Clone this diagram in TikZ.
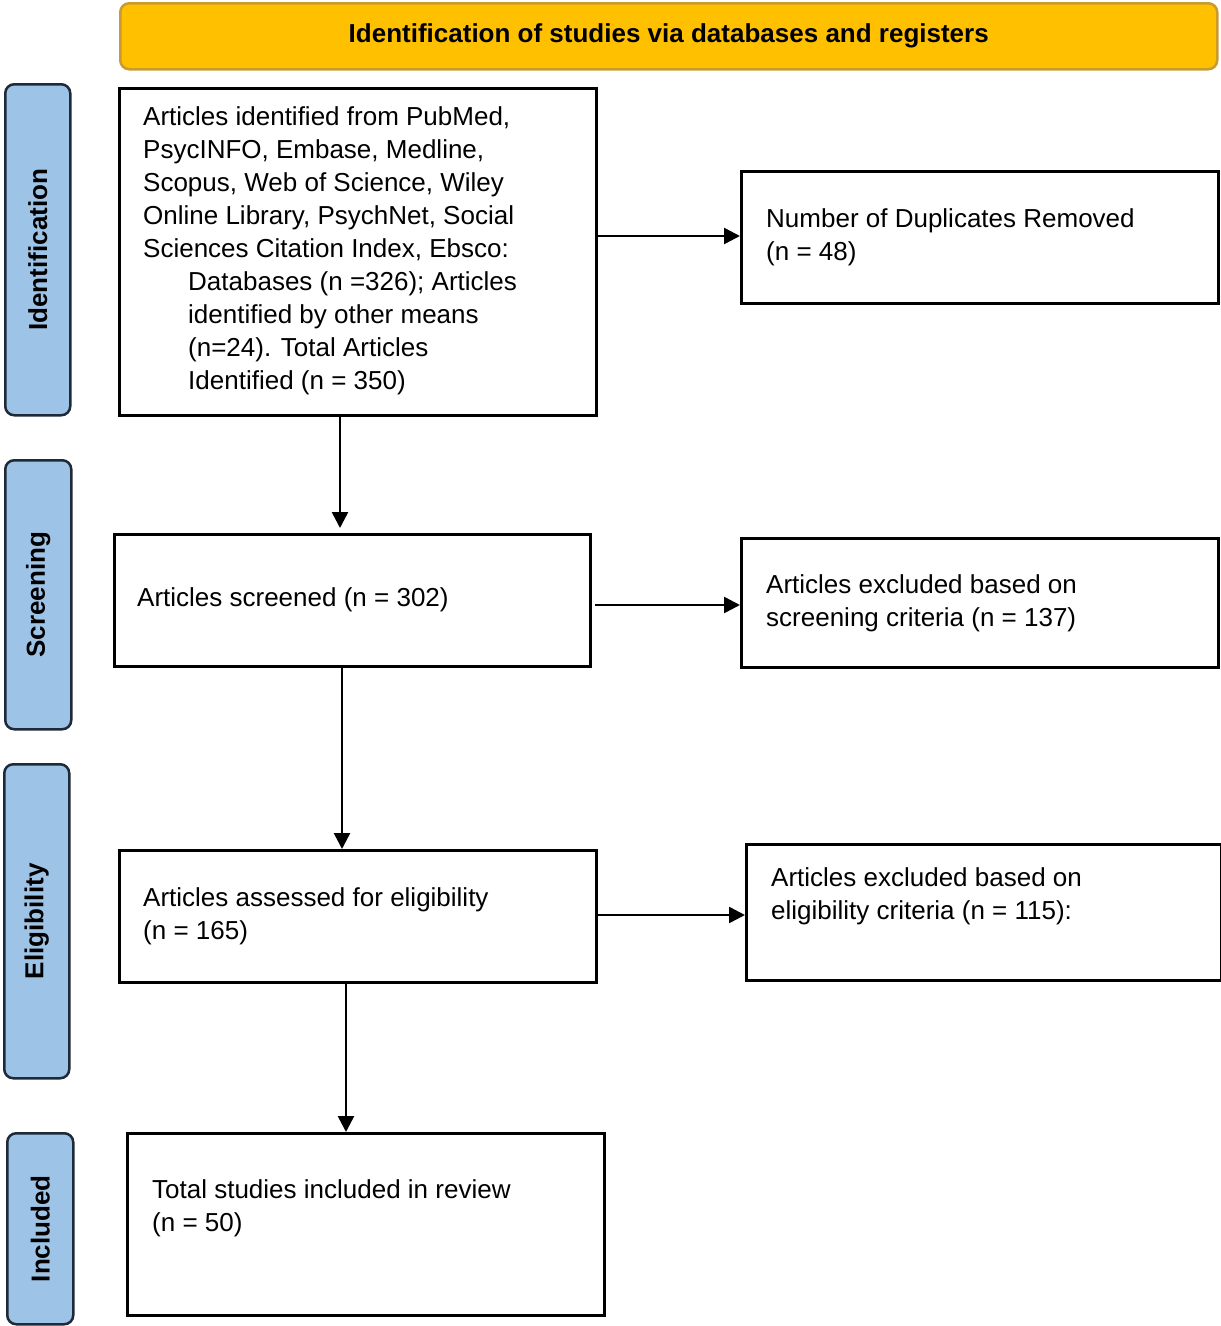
\documentclass[tikz,border=0pt]{standalone}
\usepackage{fontspec}
\setmainfont{Liberation Sans}
\usetikzlibrary{arrows.meta}
\definecolor{hdr}{HTML}{FFC000}
\definecolor{hdrb}{HTML}{C99A2E}
\definecolor{side}{HTML}{9DC3E6}
\definecolor{sideb}{HTML}{1F2A38}
\begin{document}
\begin{tikzpicture}[x=1pt,y=-1pt,
  box/.style={draw,line width=2.5pt,anchor=north west,inner sep=0pt},
  txt/.style={anchor=west,align=left,inner sep=0pt,font=\fontsize{26}{33}\selectfont},
  side/.style={draw=sideb,fill=side,line width=2.5pt,rounded corners=9pt,anchor=north west,inner sep=0pt},
  slab/.style={rotate=90,font=\fontsize{26}{30}\selectfont\bfseries},
  arr/.style={line width=2.5pt,-{Triangle[length=16pt,width=16pt]}}]
\useasboundingbox (0,0) rectangle (1221,1326);
\node[draw=hdrb,fill=hdr,line width=2.5pt,rounded corners=9pt,anchor=north west,minimum width=1097pt,minimum height=66pt,font=\fontsize{26}{30}\selectfont\bfseries] (hd) at (119,2) {Identification of studies via databases and registers};
\node[side,minimum width=65pt,minimum height=331pt] (s1) at (4,83) {};
\node[slab] at (s1.center) {Identification};
\node[side,minimum width=66pt,minimum height=269pt] (s2) at (4,459) {};
\node[slab] at (s2.center) {Screening};
\node[side,minimum width=65pt,minimum height=314pt] (s3) at (3,763) {};
\node[slab] at (s3.center) {Eligibility};
\node[side,minimum width=66pt,minimum height=191pt] (s4) at (6,1132) {};
\node[slab] at (s4.center) {Included};
% boxes
\node[box,minimum width=477pt,minimum height=327pt] (A) at (118,87) {};
\node[txt] (At) at (143,251) {Articles identified from PubMed,\\PsycINFO, Embase, Medline,\\Scopus, Web of Science, Wiley\\Online Library, PsychNet, Social\\Sciences Citation Index, Ebsco:\\\hspace*{45pt}Databases (n =326); Articles\\\hspace*{45pt}identified by other means\\\hspace*{45pt}(n=24). Total Articles\\\hspace*{45pt}Identified (n = 350)};
\node[box,minimum width=477pt,minimum height=132pt] (B) at (740,170) {};
\node[txt] (Bt) at (766,237) {Number of Duplicates Removed\\(n = 48)};
\node[box,minimum width=476pt,minimum height=132pt] (C) at (113,533) {};
\node[txt] (Ct) at (137,600) {Articles screened (n = 302)};
\node[box,minimum width=477pt,minimum height=129pt] (D) at (740,537) {};
\node[txt] (Dt) at (766,603) {Articles excluded based on\\screening criteria (n = 137)};
\node[box,minimum width=477pt,minimum height=132pt] (E) at (118,849) {};
\node[txt] (Et) at (143,916) {Articles assessed for eligibility\\(n = 165)};
\node[box,minimum width=475pt,minimum height=136pt] (F) at (745,843) {};
\node[txt] (Ft) at (771,896) {Articles excluded based on\\eligibility criteria (n = 115):};
\node[box,minimum width=477pt,minimum height=182pt] (G) at (126,1132) {};
\node[txt] (Gt) at (152,1208) {Total studies included in review\\(n = 50)};
% arrows
\draw[arr] (A.east |- 0,236) -- (B.west |- 0,236);
\draw[arr] (A.south -| 340,0) -- (340,528);
\draw[arr] (595,605) -- (D.west |- 0,605);
\draw[arr] (C.south -| 342,0) -- (342,849);
\draw[arr] (598,915) -- (F.west |- 0,915);
\draw[arr] (E.south -| 346,0) -- (G.north -| 346,0);
\end{tikzpicture}
\end{document}
